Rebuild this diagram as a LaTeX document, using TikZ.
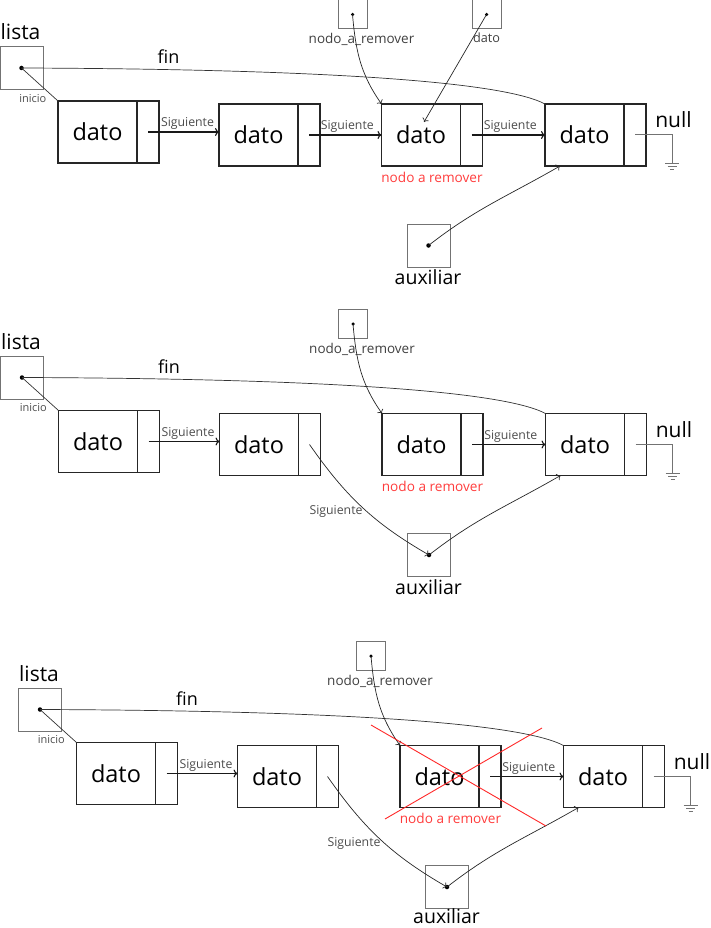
\documentclass[tikz,border=0pt]{standalone}
\usepackage{fontspec}
\setmainfont{Open Sans}
\usetikzlibrary{arrows.meta}

\tikzset{
  databox/.style={draw=black!85, line width=1.1pt, minimum width=79pt,
    minimum height=62pt, inner sep=0pt, outer sep=0pt, font=\fontsize{23.5}{24}\selectfont},
  ptrbox/.style={draw=black!85, line width=1.1pt, minimum width=22pt,
    minimum height=62pt, inner sep=0pt, outer sep=0pt, anchor=west},
  varbox/.style={draw=black!55, line width=1pt, minimum size=43pt, inner sep=0pt},
  smallvar/.style={draw=black!55, line width=1pt, minimum size=29pt, inner sep=0pt},
  ptrdot/.style={circle, fill=black, inner sep=0pt, minimum size=4.5pt},
  link/.style={draw=black!85, line width=0.7pt, -{To[length=3.5pt,width=7pt]}},
  plainlink/.style={draw=black!80, line width=0.7pt},
  nextarrow/.style={draw=black!90, line width=1.2pt, -{To[length=4pt,width=8pt]}},
  biglabel/.style={font=\fontsize{21}{21}\selectfont, inner sep=0pt, anchor=base},
  finlabel/.style={font=\fontsize{18}{18}\selectfont, inner sep=0pt, anchor=base},
  auxlabel/.style={font=\fontsize{19.5}{20}\selectfont, inner sep=0pt, anchor=base},
  siglabel/.style={font=\fontsize{12.3}{12}\selectfont, text=black!70, inner sep=1.5pt},
  varlabel/.style={font=\fontsize{13.5}{14}\selectfont, text=black!75, inner sep=0pt, anchor=base},
  iniciolabel/.style={font=\fontsize{11}{11}\selectfont, text=black!70, inner sep=0pt},
  remlabel/.style={font=\fontsize{13.6}{14}\selectfont, text={rgb,255:red,255;green,60;blue,60}, inner sep=0pt},
  groundline/.style={draw=black!55, line width=1pt},
  crossline/.style={draw={rgb,255:red,255;green,40;blue,40}, line width=0.9pt},
}

% One state of the list: head variable, four nodes, removal pointer and auxiliary pointer
% #1 shift, #2 name prefix, #3 baseline of the "auxiliar" caption
\newcommand\listpanel[3]{%
  \begin{scope}[shift={#1}]
    % head of the list
    \node[varbox] (#2L) at (21.5,-68) {};
    \node[ptrdot] (#2Ld) at (#2L.center) {};
    \node[biglabel] (#2Lt) at (20.5,-40) {lista};
    % list nodes
    \node[databox] (#2N1) at (97.5,-132) {dato};
    \node[ptrbox] (#2P1) at (#2N1.east) {};
    \node[databox] (#2N2) at (258.5,-135) {dato};
    \node[ptrbox] (#2P2) at (#2N2.east) {};
    \node[databox] (#2N3) at (421,-135) {dato};
    \node[ptrbox] (#2P3) at (#2N3.east) {};
    \node[databox] (#2N4) at (584.5,-135) {dato};
    \node[ptrbox] (#2P4) at (#2N4.east) {};
    % inicio and fin pointers
    \draw[plainlink] (#2L.center) -- (#2N1.north west)
      node[pos=0.66, anchor=north east, iniciolabel, yshift=-4pt, xshift=1pt] {inicio};
    \draw[plainlink] (#2L.center) .. controls +(280,-1) and +(-45,24) .. (#2N4.north west);
    \node[finlabel] (#2Ft) at (168.5,-64) {fin};
    % links between nodes
    \draw[nextarrow] (#2P1.center) -- (#2P1.center -| #2N2.west)
      node[midway, above, siglabel, xshift=4pt] {Siguiente};
    \draw[nextarrow] (#2P3.center) -- (#2P3.center -| #2N4.west)
      node[midway, above, siglabel, xshift=2pt] {Siguiente};
    % null terminator
    \coordinate (#2G) at (672,-164);
    \draw[groundline] (#2P4.center) -| (#2G);
    \draw[groundline] ([xshift=-7pt]#2G) -- ([xshift=7pt]#2G);
    \draw[groundline] ([shift={(-4.5pt,-3pt)}]#2G) -- ([shift={(4.5pt,-3pt)}]#2G);
    \draw[groundline] ([shift={(-2pt,-6pt)}]#2G) -- ([shift={(2pt,-6pt)}]#2G);
    \node[biglabel] (#2Nt) at (673.5,-128) {null};
    \node[remlabel] (#2Rm) at (432,-177) {nodo a remover};
    % nodo_a_remover pointer
    \node[smallvar] (#2R) at (352.5,-14.5) {};
    \node[ptrdot, minimum size=3.5pt] (#2Rd) at (#2R.center) {};
    \node[varlabel] (#2Rt) at (361.5,-43.5) {nodo\_a\_remover};
    \draw[link] (#2R.center) to[out=-85, in=125] (#2N3.north west);
    % auxiliar pointer
    \node[varbox] (#2A) at (428.5,-245.5) {};
    \node[ptrdot] (#2Ad) at (#2A.center) {};
    \node[auxlabel] (#2At) at (428,#3) {auxiliar};
    \draw[link] (#2A.center) to[out=38, in=-150] ([xshift=15pt]#2N4.south west);
  \end{scope}}

\begin{document}
\begin{tikzpicture}[x=1pt, y=1pt]
  \useasboundingbox (0,0) rectangle (710,-928);

  % state 1: locate the node to remove
  \listpanel{(0,0)}{a}{-284.5}
  \draw[nextarrow] (aP2.center) -- (aP2.center -| aN3.west)
    node[midway, above, siglabel, xshift=2pt] {Siguiente};
  \node[smallvar] (aD) at (486.5,-14.5) {};
  \node[ptrdot, minimum size=3.5pt] (aDd) at (aD.center) {};
  \node[varlabel, font=\fontsize{12.7}{13}\selectfont] (aDt) at (486.5,-42.5) {dato};
  \draw[link] (aD.center) -- ([shift={(3pt,13pt)}]aN3.center);

  % state 2: previous node now points to auxiliar
  \listpanel{(0.5,-309.5)}{b}{-284.5}
  \begin{scope}[shift={(0.5,-309.5)}]
    \draw[link] (bP2.center) to[out=-55, in=150] (bA.center);
    \node[siglabel] (bSt) at (335.5,-201.5) {Siguiente};
  \end{scope}

  % state 3: node removed
  \listpanel{(18.5,-641.5)}{c}{-281.5}
  \begin{scope}[shift={(18.5,-641.5)}]
    \draw[link] (cP2.center) to[out=-55, in=150] (cA.center);
    \node[siglabel] (cSt) at (335.5,-201.5) {Siguiente};
    \draw[crossline] ([shift={(-68.5pt,51.5pt)}]cN3.center) -- ([shift={(106.5pt,-49.5pt)}]cN3.center);
    \draw[crossline] ([shift={(102.5pt,48.5pt)}]cN3.center) -- ([shift={(-54.5pt,-42.5pt)}]cN3.center);
  \end{scope}
\end{tikzpicture}
\end{document}
